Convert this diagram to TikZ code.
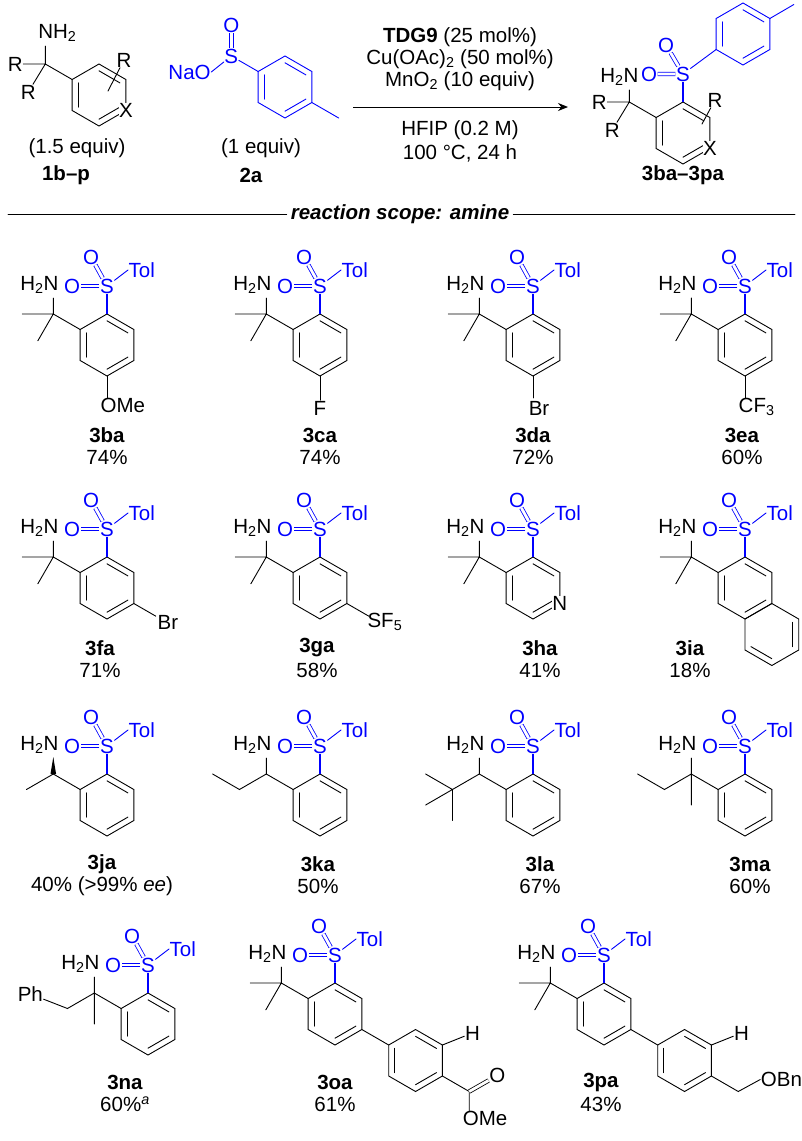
\documentclass[tikz,border=0pt]{standalone}
\usepackage{fontspec}
\setmainfont{Liberation Sans}
\usetikzlibrary{calc,arrows.meta,positioning}

% ring with corners name-1 (top) ... name-6 (top left)
\newcommand{\bzring}[4][black]{%
  \coordinate (#2) at (#3,#4);
  \coordinate (#2-1) at (#3,#4-31);
  \coordinate (#2-2) at (#3+26.85,#4-15.5);
  \coordinate (#2-3) at (#3+26.85,#4+15.5);
  \coordinate (#2-4) at (#3,#4+31);
  \coordinate (#2-5) at (#3-26.85,#4+15.5);
  \coordinate (#2-6) at (#3-26.85,#4-15.5);
  \draw[bond,#1] (#2-1)--(#2-2)--(#2-3)--(#2-4)--(#2-5)--(#2-6)--cycle;}
\newcommand{\inner}[4][black]{\draw[bond,#1] ($(#2)!0.78!(#2-#3)$) -- ($(#2)!0.78!(#2-#4)$);}
\newcommand{\kekule}[2][black]{\inner[#1]{#2}{6}{5}\inner[#1]{#2}{1}{2}\inner[#1]{#2}{3}{4}}
% SO2Tol on the top corner
\newcommand{\sulfonyl}[1]{%
  \node[blu] (#1S) at ($(#1-1)+(0,-28)$) {S};
  \node[blu] (#1Oa) at ($(#1S)+(-35,0)$) {O};
  \node[blu] (#1Ob) at ($(#1S)+(-16,-29)$) {O};
  \node[blu,anchor=west] (#1T) at ($(#1S)+(21,-16)$) {Tol};
  \draw[wbond] (#1-1) -- (#1S);
  \draw[dbond,blue] (#1S) -- (#1Oa);
  \draw[dbond,blue] (#1S) -- (#1Ob);
  \draw[bond,blue] (#1S) -- (#1T.west);}
% CMe2NH2 on the top left corner
\newcommand{\gemamine}[1]{%
  \coordinate (#1C) at ($(#1-6)+(-26.85,-15.5)$);
  \node[atom] (#1N) at ($(#1C)+(-14,-29)$) {H\textsubscript{2}N};
  \draw[bond] (#1-6) -- (#1C) -- ++(-31,0) (#1C) -- ++(-15.5,26.85) (#1C) -- ++(0,-16);}
\newcommand{\cmpd}[5]{%
  \node[lbl] (#1) at (#2,#3) {\textbf{#4}};
  \node[lbl] (#1y) at (#2,#3+22) {#5};}

\begin{document}
\begin{tikzpicture}[x=1pt,y=-1pt,
  every node/.style={font=\fontsize{20.5}{22}\selectfont},
  bond/.style={line width=0.9pt,line cap=round},
  dbond/.style={double,double distance=2.8pt,line width=0.8pt},
  wbond/.style={blue,line width=2.6pt},
  atom/.style={inner sep=0.5pt},
  blu/.style={atom,text=blue},
  wht/.style={atom,fill=white},
  lbl/.style={inner sep=0pt}]
\useasboundingbox (0,0) rectangle (802,1141);

% ---- scheme ----
\bzring{am}{99}{95}
\kekule{am}
\coordinate (amC) at ($(am-6)+(-26.85,-15.5)$);
\node[atom] (amN) at ($(amC)+(12,-31)$) {NH\textsubscript{2}};
\node[atom] (amRa) at ($(amC)+(-30,0)$) {R};
\node[atom] (amRb) at ($(amC)+(-17,28)$) {R};
\node[atom] (amR) at (124,60) {R};
\node[wht] (amX) at (am-3) {X};
\draw[bond] (am-6) -- (amC) -- (amRa) (amC) -- (amRb) (amC) -- ++(0,-18);
\draw[bond] (108,91) -- (amR);
\node[lbl] (amq) at (77,148) {(1.5 equiv)};
\node[lbl] (aml) at (66,175) {\textbf{1b–p}};

\bzring[blue]{su}{285}{87}
\kekule[blue]{su}
\node[blu] (suS) at ($(su-6)+(-26.85,-15.5)$) {S};
\node[blu] (suO) at ($(suS)+(0,-31)$) {O};
\node[blu,anchor=east] (suNa) at ($(suS)+(-20,16)$) {NaO};
\draw[bond,blue] (su-6) -- (suS) -- (suNa.east) (su-3) -- ++(26.85,15.5);
\draw[dbond,blue] (suS) -- (suO);
\node[lbl] (suq) at (261,148) {(1 equiv)};
\node[lbl] (sul) at (251,175) {\textbf{2a}};

\draw[line width=1pt,-{Stealth[length=10pt,width=8pt]}] (353,107) -- (568,107);
\node[lbl] (c1) at (460,37) {\textbf{TDG9} (25 mol\%)};
\node[lbl] (c2) at (460,59) {Cu(OAc)\textsubscript{2} (50 mol\%)};
\node[lbl] (c3) at (460,81) {MnO\textsubscript{2} (10 equiv)};
\node[lbl] (c4) at (460,130) {HFIP (0.2 M)};
\node[lbl] (c5) at (460,153) {100 °C, 24 h};

\bzring{pr}{683}{133}
\kekule{pr}
\node[blu] (prS) at ($(pr-1)+(0,-28)$) {S};
\node[blu] (prOa) at ($(prS)+(-34,0)$) {O};
\node[blu] (prOb) at ($(prS)+(-17,-29)$) {O};
\draw[wbond] (pr-1) -- (prS);
\draw[dbond,blue] (prS) -- (prOa) (prS) -- (prOb);
\bzring[blue]{to}{743}{34}
\kekule[blue]{to}
\draw[bond,blue] (prS) -- (to-5) (to-2) -- ++(24,-14);
\coordinate (prC) at ($(pr-6)+(-26.85,-15.5)$);
\node[atom] (prN) at ($(prC)+(-10,-25)$) {H\textsubscript{2}N};
\node[atom] (prRa) at ($(prC)+(-30,0)$) {R};
\node[atom] (prRb) at ($(prC)+(-17,28)$) {R};
\node[atom] (prR) at (715,100) {R};
\node[wht] (prX) at (pr-3) {X};
\draw[bond] (pr-6) -- (prC) -- (prRa) (prC) -- (prRb) (prC) -- ++(0,-12);
\draw[bond] (702,124) -- (prR);
\node[lbl] (prl) at (683,175) {\textbf{3ba–3pa}};

\node[fill=white,inner sep=4pt] (scope) at (400,214) {\bfseries\itshape reaction scope: amine};
\draw[bond] (8,214) -- (scope.west) (scope.east) -- (795,214);

% ---- row 1 ----
\foreach \r/\x in {ba/107,ca/320,da/533,ea/745}{
  \bzring{\r}{\x}{345} \kekule{\r} \sulfonyl{\r} \gemamine{\r}}
\node[atom,anchor=north west] (baOMe) at ($(ba-4)+(-7,21)$) {OMe};
\draw[bond] (ba-4) -- ++(0,22);
\node[atom] (caF) at ($(ca-4)+(0,32)$) {F};
\draw[bond] (ca-4) -- (caF);
\node[atom] (daBr) at ($(da-4)+(6,32)$) {Br};
\draw[bond] (da-4) -- ++(0,22);
\node[atom,anchor=north west] (eaCF) at ($(ea-4)+(-7,21)$) {CF\textsubscript{3}};
\draw[bond] (ea-4) -- ++(0,22);
\cmpd{lba}{107}{435}{3ba}{74\%}
\cmpd{lca}{320}{435}{3ca}{74\%}
\cmpd{lda}{533}{435}{3da}{72\%}
\cmpd{lea}{742}{435}{3ea}{60\%}

% ---- row 2 ----
\foreach \r/\x in {fa/107,ga/320,ha/533,ia/745}{
  \bzring{\r}{\x}{588} \inner{\r}{6}{5} \inner{\r}{1}{2} \sulfonyl{\r} \gemamine{\r}}
\foreach \r in {fa,ga,ha}{\inner{\r}{3}{4}}
\node[atom] (faBr) at ($(fa-3)+(34,19)$) {Br};
\draw[bond] (fa-3) -- ++(22,12.7);
\node[atom,anchor=west] (gaSF) at ($(ga-3)+(20,18)$) {SF\textsubscript{5}};
\draw[bond] (ga-3) -- ++(22,12.7);
\node[wht] (haN) at (ha-3) {N};
\bzring{ib}{771.85}{634.5}
\inner{ia}{3}{4} \inner{ib}{2}{3} \inner{ib}{4}{5}
\cmpd{lfa}{100}{648}{3fa}{71\%}
\cmpd{lga}{317}{648}{3ga}{58\%}
\cmpd{lha}{540}{648}{3ha}{41\%}
\cmpd{lia}{690}{648}{3ia}{18\%}

% ---- row 3 ----
\foreach \r/\x in {ja/107,ka/320,la/533,ma/745}{
  \bzring{\r}{\x}{805} \kekule{\r} \sulfonyl{\r}
  \coordinate (\r C) at ($(\r-6)+(-26.85,-15.5)$);
  \node[atom] (\r N) at ($(\r C)+(-14,-29)$) {H\textsubscript{2}N};
  \draw[bond] (\r-6) -- (\r C);}
\fill ($(jaC)+(0,-17)$) -- ($(jaC)+(-2.8,0)$) -- ($(jaC)+(2.8,0)$) -- cycle;
\draw[bond] (jaC) -- ++(-26.85,15.5);
\draw[bond] (kaC) -- ++(0,-16) (kaC) -- ++(-26.85,15.5) -- ++(-26.85,-15.5);
\draw[bond] (laC) -- ++(0,-16) (laC) -- ++(-26.85,15.5) coordinate (laT)
  -- ++(-26.85,-15.5) (laT) -- ++(-26.85,15.5) (laT) -- ++(0,31);
\draw[bond] (maC) -- ++(0,-16) (maC) -- ++(0,31) (maC) -- ++(-26.85,15.5) -- ++(-26.85,-15.5);
\cmpd{lja}{102}{864}{3ja}{40\% (>99\% \emph{ee})}
\cmpd{lka}{318}{864}{3ka}{50\%}
\cmpd{lla}{540}{864}{3la}{67\%}
\cmpd{lma}{750}{864}{3ma}{60\%}

% ---- row 4 ----
\bzring{na}{148}{1024} \kekule{na} \sulfonyl{na}
\coordinate (naC) at ($(na-6)+(-26.85,-15.5)$);
\node[atom] (naN) at ($(naC)+(-14,-29)$) {H\textsubscript{2}N};
\node[atom] (naPh) at ($(naC)+(-64,1)$) {Ph};
\draw[bond] (na-6) -- (naC) -- ++(0,-16) (naC) -- ++(0,31)
  (naC) -- ++(-26.85,15.5) -- (naPh);
\cmpd{lna}{125}{1082}{3na}{60\%\textsuperscript{\emph{a}}}

\foreach \r/\s/\x in {oa/ob/335,pa/pb/604}{
  \bzring{\r}{\x}{1014} \kekule{\r} \sulfonyl{\r} \gemamine{\r}
  \bzring{\s}{\x+80.55}{1060.5} \kekule{\s}
  \draw[bond] (\r-3) -- (\s-6);
  \node[atom] (\s H) at ($(\s-2)+(30,-12)$) {H};
  \draw[bond] (\s-2) -- (\s H);}
\coordinate (obC) at ($(ob-3)+(26.85,15.5)$);
\node[atom] (obO) at ($(obC)+(28,-16)$) {O};
\node[atom,anchor=north west] (obOMe) at ($(obC)+(-7,19)$) {OMe};
\draw[bond] (ob-3) -- (obC) -- ++(0,20);
\draw[dbond] (obC) -- (obO);
\coordinate (pbC) at ($(pb-3)+(26.85,15.5)$);
\node[atom,anchor=west] (pbO) at ($(pbC)+(22,-12)$) {OBn};
\draw[bond] (pb-3) -- (pbC) -- (pbO.west);
\cmpd{loa}{335}{1082}{3oa}{61\%}
\cmpd{lpa}{601}{1082}{3pa}{43\%}
\end{tikzpicture}
\end{document}
